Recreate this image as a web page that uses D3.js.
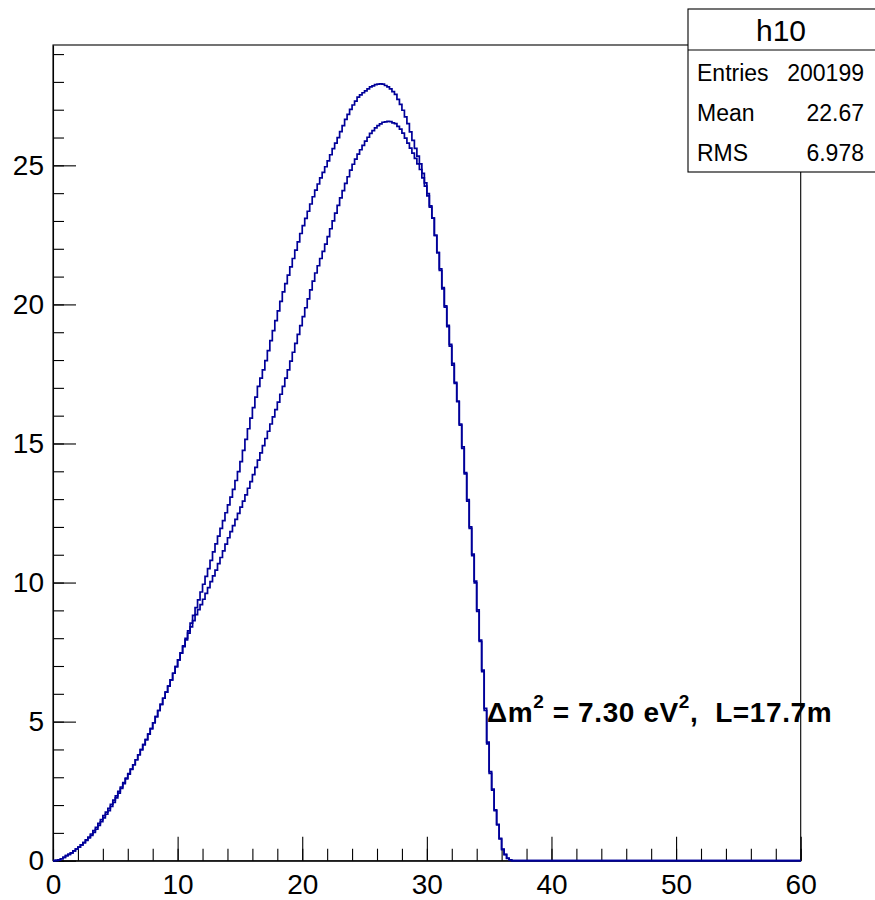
<!DOCTYPE html>
<html>
<head>
<meta charset="utf-8">
<script src="https://cdn.jsdelivr.net/npm/d3@7"></script>
<style>
  html, body { margin: 0; padding: 0; background: #fff; }
  svg { display: block; }
  text { font-family: "Liberation Sans", Arial, Helvetica, sans-serif; }
</style>
</head>
<body>
<svg id="chart" width="875" height="900"></svg>
<script>
// Histogram binning: 300 bins of width 0.2 over [0, 60]
const xDomain = [0, 60];
const nBins = 300;

// Bin contents (bins starting at x = 0), first histogram
const binsA = [
  0, 0.01, 0.03, 0.07, 0.12,
  0.18, 0.23, 0.28, 0.35, 0.42,
  0.49, 0.57, 0.65, 0.75, 0.85,
  0.96, 1.08, 1.20, 1.34, 1.48,
  1.62, 1.75, 1.88, 2.03, 2.18,
  2.33, 2.49, 2.65, 2.81, 2.97,
  3.13, 3.29, 3.45, 3.63, 3.81,
  3.99, 4.17, 4.35, 4.55, 4.75,
  4.96, 5.18, 5.40, 5.62, 5.84,
  6.06, 6.28, 6.50, 6.74, 6.98,
  7.22, 7.47, 7.72, 7.99, 8.26,
  8.54, 8.82, 9.10, 9.38, 9.66,
  9.94, 10.22, 10.50, 10.80, 11.10,
  11.39, 11.67, 11.95, 12.23, 12.51,
  12.79, 13.07, 13.35, 13.67, 13.99,
  14.35, 14.75, 15.15, 15.53, 15.91,
  16.29, 16.67, 17.05, 17.35, 17.65,
  17.98, 18.34, 18.70, 19.06, 19.42,
  19.77, 20.11, 20.45, 20.75, 21.05,
  21.35, 21.65, 21.95, 22.25, 22.55,
  22.83, 23.09, 23.35, 23.61, 23.87,
  24.11, 24.33, 24.55, 24.75, 24.95,
  25.16, 25.38, 25.60, 25.80, 26.00,
  26.21, 26.43, 26.65, 26.83, 27.01,
  27.17, 27.31, 27.45, 27.53, 27.61,
  27.68, 27.75, 27.82, 27.86, 27.90,
  27.92, 27.93, 27.92, 27.87, 27.82,
  27.75, 27.65, 27.55, 27.37, 27.19,
  26.98, 26.74, 26.50, 26.20, 25.90,
  25.61, 25.33, 25.05, 24.71, 24.37,
  23.98, 23.54, 23.10, 22.48, 21.86,
  21.22, 20.56, 19.90, 19.20, 18.50,
  17.82, 17.16, 16.50, 15.66, 14.82,
  13.91, 12.93, 11.95, 10.97, 9.99,
  8.96, 7.88, 6.80, 5.40, 4.20,
  3.14, 2.54, 1.80, 1.29, 0.78,
  0.40, 0.22, 0.08, 0.03, 0
];

// Bin contents, second histogram
const binsB = [
  0, 0.01, 0.03, 0.07, 0.12,
  0.18, 0.23, 0.28, 0.35, 0.42,
  0.49, 0.57, 0.65, 0.73, 0.82,
  0.91, 1.02, 1.13, 1.27, 1.40,
  1.54, 1.67, 1.80, 1.95, 2.10,
  2.26, 2.43, 2.60, 2.77, 2.94,
  3.11, 3.28, 3.45, 3.63, 3.81,
  3.99, 4.17, 4.35, 4.55, 4.75,
  4.96, 5.18, 5.40, 5.62, 5.84,
  6.06, 6.28, 6.50, 6.74, 6.98,
  7.22, 7.46, 7.70, 7.94, 8.18,
  8.41, 8.63, 8.85, 9.03, 9.21,
  9.40, 9.61, 9.82, 10.03, 10.24,
  10.45, 10.68, 10.90, 11.14, 11.38,
  11.61, 11.83, 12.05, 12.27, 12.49,
  12.71, 12.93, 13.15, 13.39, 13.63,
  13.88, 14.14, 14.40, 14.66, 14.92,
  15.18, 15.44, 15.70, 15.96, 16.22,
  16.49, 16.77, 17.05, 17.35, 17.65,
  17.96, 18.28, 18.60, 18.92, 19.24,
  19.56, 19.88, 20.20, 20.52, 20.84,
  21.13, 21.39, 21.65, 21.91, 22.17,
  22.44, 22.72, 23.00, 23.28, 23.56,
  23.83, 24.09, 24.35, 24.59, 24.83,
  25.04, 25.22, 25.40, 25.56, 25.72,
  25.87, 26.01, 26.15, 26.25, 26.35,
  26.43, 26.49, 26.55, 26.56, 26.58,
  26.57, 26.53, 26.50, 26.40, 26.30,
  26.16, 25.98, 25.80, 25.62, 25.44,
  25.25, 25.05, 24.85, 24.55, 24.25,
  23.90, 23.50, 23.10, 22.48, 21.86,
  21.28, 20.60, 19.95, 19.25, 18.56,
  17.88, 17.20, 16.52, 15.70, 14.88,
  13.95, 12.98, 12.00, 11.02, 10.05,
  9.02, 7.93, 6.85, 5.48, 4.26,
  3.20, 2.57, 1.83, 1.31, 0.80,
  0.42, 0.23, 0.09, 0.03, 0
];

// Axis ticks
const xMajorTicks = [0, 10, 20, 30, 40, 50, 60];
const yMajorTicks = [0, 5, 10, 15, 20, 25];

// Statistics box
const statTitle = "h10";
const statLabels = ["Entries", "Mean", "RMS"];
const statValues = ["200199", "22.67", "6.978"];

// Annotation
const noteParts = [
  { t: "\u0394m", sup: false },
  { t: "2", sup: true },
  { t: " = 7.30 eV", sup: false },
  { t: "2", sup: true },
  { t: ",  L=17.7m", sup: false }
];

// ---------------------------------------------------------------
const svg = d3.select("#chart");
const frame = { left: 53, right: 800.7, top: 45, bottom: 860.7 };

const binWidth = (xDomain[1] - xDomain[0]) / nBins;
const yMax = d3.max(binsA.concat(binsB)) * 1.05;

const x = d3.scaleLinear().domain(xDomain).range([frame.left, frame.right]);
const y = d3.scaleLinear().domain([0, yMax]).range([frame.bottom, frame.top]);

// frame box
svg.append("rect")
  .attr("x", frame.left).attr("y", frame.top)
  .attr("width", frame.right - frame.left)
  .attr("height", frame.bottom - frame.top)
  .attr("fill", "none").attr("stroke", "#000").attr("stroke-width", 1.1);

// minor ticks
const yMinor = d3.range(0, Math.floor(yMax) + 1, 1);
const xMinor = d3.range(xDomain[0], xDomain[1] + 0.001, 2);

svg.append("g")
  .attr("transform", `translate(${frame.left},0)`)
  .call(d3.axisLeft(y).tickValues(yMinor).tickSize(-11).tickSizeOuter(0).tickFormat(""))
  .call(g => g.select(".domain").remove())
  .call(g => g.selectAll("line").attr("stroke", "#000").attr("stroke-width", 1.1));

svg.append("g")
  .attr("transform", `translate(0,${frame.bottom})`)
  .call(d3.axisBottom(x).tickValues(xMinor).tickSize(-12).tickSizeOuter(0).tickFormat(""))
  .call(g => g.select(".domain").remove())
  .call(g => g.selectAll("line").attr("stroke", "#000").attr("stroke-width", 1.1));

// major ticks with labels
const yAxis = svg.append("g")
  .attr("transform", `translate(${frame.left},0)`)
  .call(d3.axisLeft(y).tickValues(yMajorTicks).tickSize(-23).tickSizeOuter(0).tickPadding(9).tickFormat(d3.format("d")));
yAxis.select(".domain").attr("stroke", "#000").attr("stroke-width", 1.1);
yAxis.selectAll("line").attr("stroke", "#000").attr("stroke-width", 1.1);
yAxis.selectAll("text")
  .attr("font-size", 28).attr("fill", "#000")
  .style("font-family", "'Liberation Sans', Arial, sans-serif");

const xAxis = svg.append("g")
  .attr("transform", `translate(0,${frame.bottom})`)
  .call(d3.axisBottom(x).tickValues(xMajorTicks).tickSize(-24).tickSizeOuter(0).tickPadding(13).tickFormat(d3.format("d")));
xAxis.select(".domain").attr("stroke", "#000").attr("stroke-width", 1.1);
xAxis.selectAll("line").attr("stroke", "#000").attr("stroke-width", 1.1);
xAxis.selectAll("text")
  .attr("font-size", 28).attr("fill", "#000")
  .style("font-family", "'Liberation Sans', Arial, sans-serif");

// step outline of a histogram over the whole axis range
function stepPoints(bins) {
  const pts = [];
  for (let i = 0; i < nBins; i++) {
    pts.push([xDomain[0] + i * binWidth, i < bins.length ? bins[i] : 0]);
  }
  pts.push([xDomain[1], 0]);
  return pts;
}

const line = d3.line()
  .x(d => x(d[0]))
  .y(d => y(d[1]))
  .curve(d3.curveStepAfter);

[binsA, binsB].forEach(bins => {
  svg.append("path")
    .datum(stepPoints(bins))
    .attr("d", line)
    .attr("fill", "none")
    .attr("stroke", "#000099")
    .attr("stroke-width", 1.7);
});

// annotation
const note = svg.append("text")
  .attr("x", 487).attr("y", 722)
  .attr("font-size", 28).attr("font-weight", "bold")
  .attr("letter-spacing", 0.6)
  .attr("fill", "#000")
  .style("white-space", "pre");
noteParts.forEach((p, i) => {
  const ts = note.append("tspan").text(p.t);
  if (p.sup) ts.attr("font-size", 19).attr("dy", -14);
  else if (i > 0 && noteParts[i - 1].sup) ts.attr("dy", 14);
});

// statistics box
const box = { x: 688, y: 9, w: 200, sep: 50, bottom: 172 };
svg.append("rect")
  .attr("x", box.x).attr("y", box.y)
  .attr("width", box.w).attr("height", box.bottom - box.y)
  .attr("fill", "#fff").attr("stroke", "#000").attr("stroke-width", 1.1);
svg.append("line")
  .attr("x1", box.x).attr("x2", box.x + box.w)
  .attr("y1", box.sep).attr("y2", box.sep)
  .attr("stroke", "#000").attr("stroke-width", 1.1);
svg.append("text")
  .attr("x", 781).attr("y", 41)
  .attr("text-anchor", "middle")
  .attr("font-size", 30)
  .text(statTitle);
statLabels.forEach((lab, i) => {
  const yy = 80.5 + i * 40;
  svg.append("text").attr("x", 697).attr("y", yy)
    .attr("font-size", 23).text(lab);
  svg.append("text").attr("x", 864).attr("y", yy)
    .attr("text-anchor", "end")
    .attr("font-size", 23).text(statValues[i]);
});
</script>
</body>
</html>
